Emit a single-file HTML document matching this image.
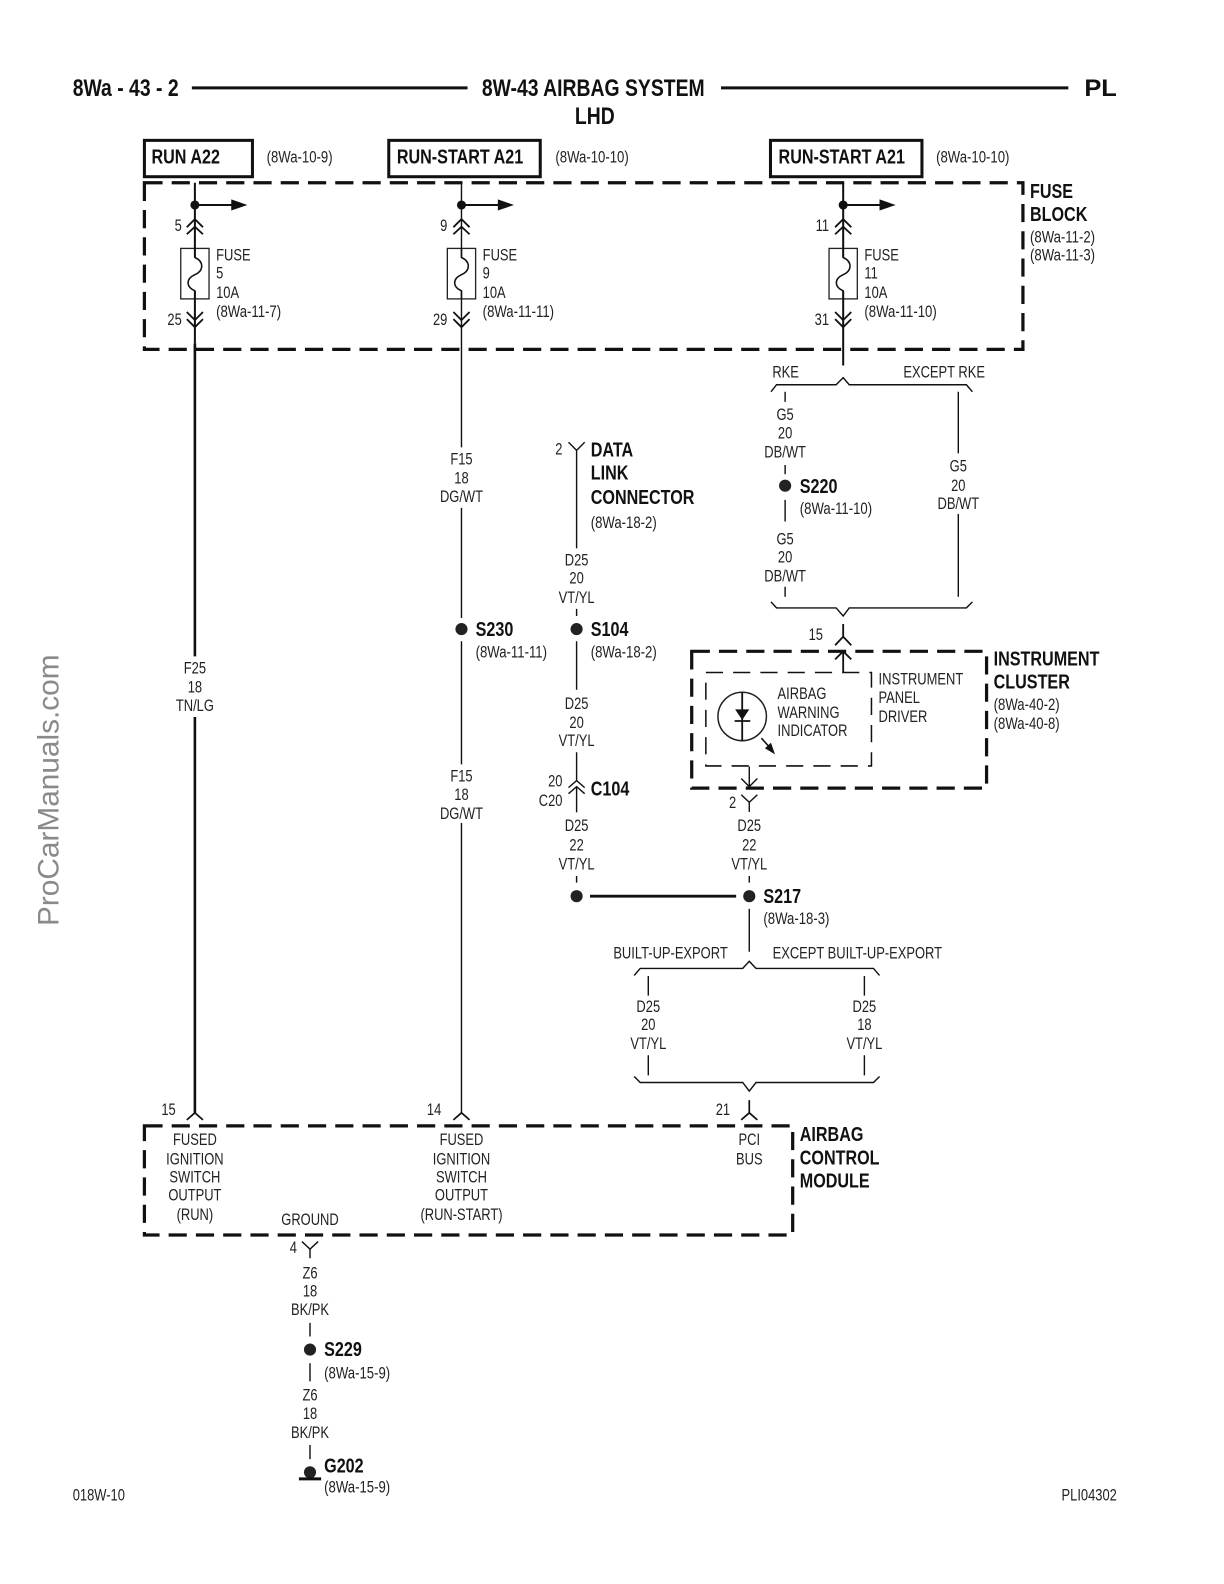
<!DOCTYPE html>
<html><head><meta charset="utf-8"><style>
html,body{margin:0;padding:0;background:#fff}
svg{display:block}
text{font-family:"Liberation Sans",sans-serif;fill:#222}
.r{font-size:16px}
.b{font-size:20px;font-weight:bold;fill:#111}
.t{font-size:24px;font-weight:bold;fill:#111}
.m{text-anchor:middle}
.e{text-anchor:end}
.l{fill:none;stroke:#111;stroke-width:1.4}
.k{fill:none;stroke:#111;stroke-width:2.6}
.d{fill:none;stroke:#111;stroke-width:3.2;stroke-dasharray:18 9}
.i{fill:none;stroke:#111;stroke-width:1.5;stroke-dasharray:17 10}
</style></head><body>
<svg width="1224" height="1584" viewBox="0 0 1224 1584" xmlns="http://www.w3.org/2000/svg">
<rect width="1224" height="1584" fill="#fff"/>
<text transform="translate(58.5 926) rotate(-90)" style="font-size:29.8px;fill:#8a8a8a">ProCarManuals.com</text>
<g transform="scale(1.0098)">
<!-- header -->
<text class="t" transform="matrix(.8 0 0 1 72 95)">8Wa - 43 - 2</text>
<text class="t m" transform="matrix(.8 0 0 1 587.500 95)">8W-43 AIRBAG SYSTEM</text>
<text class="t m" transform="matrix(.8 0 0 1 589 123)">LHD</text>
<text class="t e" transform="matrix(1.05 0 0 1 1106 95)">PL</text>
<path class="k" style="stroke-width:3" d="M190 87H463M714 87H1058"/>
<!-- source boxes -->
<rect class="k" style="stroke-width:3" x="143" y="139" width="107" height="36"/>
<rect class="k" style="stroke-width:3" x="385" y="139" width="150" height="36"/>
<rect class="k" style="stroke-width:3" x="763" y="139" width="150" height="36"/>
<text class="b" transform="matrix(.8 0 0 1 150 162)">RUN A22</text>
<text class="b" transform="matrix(.8 0 0 1 393 162)">RUN-START A21</text>
<text class="b" transform="matrix(.8 0 0 1 771 162)">RUN-START A21</text>
<text class="r" transform="matrix(.815 0 0 1 264 161)">(8Wa-10-9)</text>
<text class="r" transform="matrix(.815 0 0 1 550 161)">(8Wa-10-10)</text>
<text class="r" transform="matrix(.815 0 0 1 927 161)">(8Wa-10-10)</text>
<!-- containers -->
<rect class="d" x="143" y="181" width="870" height="165"/>
<rect class="d" x="685" y="645" width="292" height="135.500"/>
<rect class="i" x="699" y="666" width="164" height="92.500"/>
<rect class="d" x="143" y="1115" width="642" height="108"/>
<text class="b" transform="matrix(.8 0 0 1 1020 196)">FUSE</text>
<text class="b" transform="matrix(.8 0 0 1 1020 219)">BLOCK</text>
<text class="r" transform="matrix(.815 0 0 1 1020 240)">(8Wa-11-2)</text>
<text class="r" transform="matrix(.815 0 0 1 1020 258)">(8Wa-11-3)</text>
<text class="b" transform="matrix(.8 0 0 1 984 659)">INSTRUMENT</text>
<text class="b" transform="matrix(.8 0 0 1 984 682)">CLUSTER</text>
<text class="r" transform="matrix(.815 0 0 1 984 703)">(8Wa-40-2)</text>
<text class="r" transform="matrix(.815 0 0 1 984 722)">(8Wa-40-8)</text>
<text class="b" transform="matrix(.8 0 0 1 792 1130)">AIRBAG</text>
<text class="b" transform="matrix(.8 0 0 1 792 1153)">CONTROL</text>
<text class="b" transform="matrix(.8 0 0 1 792 1176)">MODULE</text>
<!-- fuses -->
<defs>
<g id="fz">
<circle cx="0" cy="203" r="4.500" fill="#111"/>
<path class="k" style="stroke-width:2" d="M0 203H40"/>
<path d="M36 197.500L52 203L36 208.500Z" fill="#111"/>
<path class="k" style="stroke-width:1.800" d="M-8 225L0 217L8 225M-8 232L0 224.500L8 232M-8 309L0 317L8 309M-8 316L0 324L8 316"/>
<rect x="-14" y="246" width="28" height="50" fill="none" stroke="#222" stroke-width="1.300"/>
<path class="k" style="stroke-width:1.500" d="M0 246V255C9 259 9 268 0 272C-9 276 -9 284 0 288V296"/>
</g>
</defs>
<use href="#fz" transform="translate(193 0)"/>
<use href="#fz" transform="translate(457 0)"/>
<use href="#fz" transform="translate(835 0)"/>
<text class="r" transform="matrix(.8 0 0 1 214 258)">FUSE</text><text class="r" transform="matrix(.8 0 0 1 214 276)">5</text><text class="r" transform="matrix(.8 0 0 1 214 295)">10A</text><text class="r" transform="matrix(.815 0 0 1 214 314)">(8Wa-11-7)</text>
<text class="r" transform="matrix(.8 0 0 1 478 258)">FUSE</text><text class="r" transform="matrix(.8 0 0 1 478 276)">9</text><text class="r" transform="matrix(.8 0 0 1 478 295)">10A</text><text class="r" transform="matrix(.815 0 0 1 478 314)">(8Wa-11-11)</text>
<text class="r" transform="matrix(.8 0 0 1 856 258)">FUSE</text><text class="r" transform="matrix(.8 0 0 1 856 276)">11</text><text class="r" transform="matrix(.8 0 0 1 856 295)">10A</text><text class="r" transform="matrix(.815 0 0 1 856 314)">(8Wa-11-10)</text>
<text class="r e" transform="matrix(.8 0 0 1 180 229)">5</text><text class="r e" transform="matrix(.8 0 0 1 180 322)">25</text>
<text class="r e" transform="matrix(.8 0 0 1 443 229)">9</text><text class="r e" transform="matrix(.8 0 0 1 443 322)">29</text>
<text class="r e" transform="matrix(.8 0 0 1 821 229)">11</text><text class="r e" transform="matrix(.8 0 0 1 821 322)">31</text>
<!-- wires -->
<path class="k" style="stroke-width:2" d="M193 181V255M193 288V340"/>
<path class="k" d="M193 340V650M193 710V1102"/>
<path class="l" d="M457 181V255M457 288V443M457 503V612M457 635V757M457 815V1102"/>
<path class="k" style="stroke-width:2" d="M835 181V255M835 288V362"/>
<!-- RKE brace -->
<path class="l" d="M763.500 388L769 381H828L835 374L841 381H957L963 388"/>
<path class="l" d="M763.500 596L769 602H828L835 610L841 602H957L963 596"/>
<path class="l" d="M777.500 388V398M777.500 460.500V469.500M777.500 495V516.500M777.500 581V591M949 388V449M949 509V591"/>
<circle cx="777.500" cy="481" r="6" fill="#222"/>
<text class="b" transform="matrix(.8 0 0 1 792 488)">S220</text>
<text class="r" transform="matrix(.815 0 0 1 792 509)">(8Wa-11-10)</text>
<text class="r m" transform="matrix(.8 0 0 1 778 374)">RKE</text>
<text class="r m" transform="matrix(.8 0 0 1 935 374)">EXCEPT RKE</text>
<text class="r m" transform="matrix(.8 0 0 1 777.500 416)">G5</text><text class="r m" transform="matrix(.8 0 0 1 777.500 434)">20</text><text class="r m" transform="matrix(.8 0 0 1 777.500 453)">DB/WT</text>
<text class="r m" transform="matrix(.8 0 0 1 777.500 539)">G5</text><text class="r m" transform="matrix(.8 0 0 1 777.500 557)">20</text><text class="r m" transform="matrix(.8 0 0 1 777.500 576)">DB/WT</text>
<text class="r m" transform="matrix(.8 0 0 1 949 467)">G5</text><text class="r m" transform="matrix(.8 0 0 1 949 486)">20</text><text class="r m" transform="matrix(.8 0 0 1 949 504)">DB/WT</text>
<!-- cluster connectors -->
<path class="k" style="stroke-width:1.800" d="M835 618V630.500M827 639L835 630.500L843 639M827 653L835 645L843 653M835 645V666"/>
<text class="r e" transform="matrix(.8 0 0 1 815 634)">15</text>
<circle cx="735" cy="709.500" r="24" fill="none" stroke="#222" stroke-width="1.500"/>
<path class="l" style="stroke-width:1.800" d="M735 685.500V733.500M727.500 714H743"/>
<path d="M728 702.500H742L735 713Z" fill="#111"/>
<path class="l" style="stroke-width:1.600" d="M754 731L763 741"/>
<path d="M767.500 747L757.500 741L763.500 735.500Z" fill="#111"/>
<text class="r" transform="matrix(.8 0 0 1 770 692)">AIRBAG</text>
<text class="r" transform="matrix(.8 0 0 1 770 711)">WARNING</text>
<text class="r" transform="matrix(.8 0 0 1 770 729)">INDICATOR</text>
<text class="r" transform="matrix(.8 0 0 1 870 678)">INSTRUMENT</text>
<text class="r" transform="matrix(.8 0 0 1 870 696)">PANEL</text>
<text class="r" transform="matrix(.8 0 0 1 870 715)">DRIVER</text>
<path class="l" d="M742 759V779M734 771L742 779L750 771M734 787L742 794.500L750 787M742 794.500V804"/>
<text class="r e" transform="matrix(.8 0 0 1 729 800)">2</text>
<!-- data link -->
<path class="l" d="M563 438L571 446L579 438M571 446V543M571 603V610M571 635V683M571 745V773M563 780L571 773L579 780M563 786L571 779L579 786M571 779V804.500M571 867.500V874M742 867.500V874"/>
<text class="r e" transform="matrix(.8 0 0 1 557 450)">2</text>
<text class="b" transform="matrix(.8 0 0 1 585 452)">DATA</text>
<text class="b" transform="matrix(.8 0 0 1 585 475)">LINK</text>
<text class="b" transform="matrix(.8 0 0 1 585 499)">CONNECTOR</text>
<text class="r" transform="matrix(.815 0 0 1 585 523)">(8Wa-18-2)</text>
<text class="r m" transform="matrix(.8 0 0 1 571 560)">D25</text><text class="r m" transform="matrix(.8 0 0 1 571 578)">20</text><text class="r m" transform="matrix(.8 0 0 1 571 597)">VT/YL</text>
<circle cx="571" cy="623" r="6" fill="#222"/>
<text class="b" transform="matrix(.8 0 0 1 585 630)">S104</text>
<text class="r" transform="matrix(.815 0 0 1 585 651)">(8Wa-18-2)</text>
<circle cx="457" cy="623" r="6" fill="#222"/>
<text class="b" transform="matrix(.8 0 0 1 471 630)">S230</text>
<text class="r" transform="matrix(.815 0 0 1 471 651)">(8Wa-11-11)</text>
<text class="r m" transform="matrix(.8 0 0 1 571 702)">D25</text><text class="r m" transform="matrix(.8 0 0 1 571 721)">20</text><text class="r m" transform="matrix(.8 0 0 1 571 739)">VT/YL</text>
<text class="r e" transform="matrix(.8 0 0 1 557 779)">20</text><text class="r e" transform="matrix(.8 0 0 1 557 798)">C20</text>
<text class="b" transform="matrix(.8 0 0 1 585 788)">C104</text>
<text class="r m" transform="matrix(.8 0 0 1 571 823)">D25</text><text class="r m" transform="matrix(.8 0 0 1 571 842)">22</text><text class="r m" transform="matrix(.8 0 0 1 571 861)">VT/YL</text>
<text class="r m" transform="matrix(.8 0 0 1 742 823)">D25</text><text class="r m" transform="matrix(.8 0 0 1 742 842)">22</text><text class="r m" transform="matrix(.8 0 0 1 742 861)">VT/YL</text>
<!-- F labels -->
<text class="r m" transform="matrix(.8 0 0 1 193 667)">F25</text><text class="r m" transform="matrix(.8 0 0 1 193 686)">18</text><text class="r m" transform="matrix(.8 0 0 1 193 704)">TN/LG</text>
<text class="r m" transform="matrix(.8 0 0 1 457 460)">F15</text><text class="r m" transform="matrix(.8 0 0 1 457 479)">18</text><text class="r m" transform="matrix(.8 0 0 1 457 497)">DG/WT</text>
<text class="r m" transform="matrix(.8 0 0 1 457 774)">F15</text><text class="r m" transform="matrix(.8 0 0 1 457 792)">18</text><text class="r m" transform="matrix(.8 0 0 1 457 811)">DG/WT</text>
<!-- S217 -->
<circle cx="571" cy="887.500" r="6" fill="#222"/>
<circle cx="742" cy="887.500" r="6" fill="#222"/>
<path class="k" style="stroke-width:2.800" d="M584.300 887.500H729"/>
<text class="b" transform="matrix(.8 0 0 1 756 894)">S217</text>
<text class="r" transform="matrix(.815 0 0 1 756 915)">(8Wa-18-3)</text>
<path class="l" d="M742 900V942.500"/>
<text class="r m" transform="matrix(.8 0 0 1 664 949)">BUILT-UP-EXPORT</text>
<text class="r m" transform="matrix(.8 0 0 1 849 949)">EXCEPT BUILT-UP-EXPORT</text>
<path class="l" d="M628 966L634 959H735.500L742 952L748.700 959H865L871 966"/>
<path class="l" d="M628 1066L634 1072H735.500L742 1080.500L748.700 1072H865L871 1066"/>
<path class="l" d="M642 966.500V986M642 1045V1065M856 966.500V986M856 1045V1065"/>
<text class="r m" transform="matrix(.8 0 0 1 642 1002)">D25</text><text class="r m" transform="matrix(.8 0 0 1 642 1020)">20</text><text class="r m" transform="matrix(.8 0 0 1 642 1039)">VT/YL</text>
<text class="r m" transform="matrix(.8 0 0 1 856 1002)">D25</text><text class="r m" transform="matrix(.8 0 0 1 856 1020)">18</text><text class="r m" transform="matrix(.8 0 0 1 856 1039)">VT/YL</text>
<!-- module connectors -->
<path class="l" style="stroke-width:1.700" d="M185 1109L193 1102L201 1109M449 1109L457 1102L465 1109M734 1109L742 1102L750 1109M742 1089.500V1102"/>
<text class="r e" transform="matrix(.8 0 0 1 174 1104)">15</text>
<text class="r e" transform="matrix(.8 0 0 1 437 1104)">14</text>
<text class="r e" transform="matrix(.8 0 0 1 723 1104)">21</text>
<text class="r m" transform="matrix(.8 0 0 1 193 1134)">FUSED</text><text class="r m" transform="matrix(.8 0 0 1 193 1153)">IGNITION</text><text class="r m" transform="matrix(.8 0 0 1 193 1171)">SWITCH</text><text class="r m" transform="matrix(.8 0 0 1 193 1189)">OUTPUT</text><text class="r m" transform="matrix(.8 0 0 1 193 1208)">(RUN)</text>
<text class="r m" transform="matrix(.8 0 0 1 457 1134)">FUSED</text><text class="r m" transform="matrix(.8 0 0 1 457 1153)">IGNITION</text><text class="r m" transform="matrix(.8 0 0 1 457 1171)">SWITCH</text><text class="r m" transform="matrix(.8 0 0 1 457 1189)">OUTPUT</text><text class="r m" transform="matrix(.8 0 0 1 457 1208)">(RUN-START)</text>
<text class="r m" transform="matrix(.8 0 0 1 742 1134)">PCI</text><text class="r m" transform="matrix(.8 0 0 1 742 1153)">BUS</text>
<text class="r m" transform="matrix(.8 0 0 1 307 1213)">GROUND</text>
<!-- ground -->
<path class="l" d="M299 1229.500L307 1237L315 1229.500M307 1237V1246M307 1310V1323.500M307 1350V1368M307 1431V1445"/>
<text class="r e" transform="matrix(.8 0 0 1 294 1241)">4</text>
<text class="r m" transform="matrix(.8 0 0 1 307 1266)">Z6</text><text class="r m" transform="matrix(.8 0 0 1 307 1284)">18</text><text class="r m" transform="matrix(.8 0 0 1 307 1302)">BK/PK</text>
<circle cx="307" cy="1336.500" r="6" fill="#222"/>
<text class="b" transform="matrix(.8 0 0 1 321 1343)">S229</text>
<text class="r" transform="matrix(.815 0 0 1 321 1365)">(8Wa-15-9)</text>
<text class="r m" transform="matrix(.8 0 0 1 307 1387)">Z6</text><text class="r m" transform="matrix(.8 0 0 1 307 1405)">18</text><text class="r m" transform="matrix(.8 0 0 1 307 1424)">BK/PK</text>
<circle cx="307" cy="1458" r="6" fill="#222"/>
<path class="k" style="stroke-width:3" d="M296 1464.500H318"/>
<text class="b" transform="matrix(.8 0 0 1 321 1458)">G202</text>
<text class="r" transform="matrix(.815 0 0 1 321 1478)">(8Wa-15-9)</text>
<!-- footer -->
<text class="r" transform="matrix(.8 0 0 1 72 1486)">018W-10</text>
<text class="r e" transform="matrix(.8 0 0 1 1106 1486)">PLI04302</text>
</g>
</svg>
</body></html>
